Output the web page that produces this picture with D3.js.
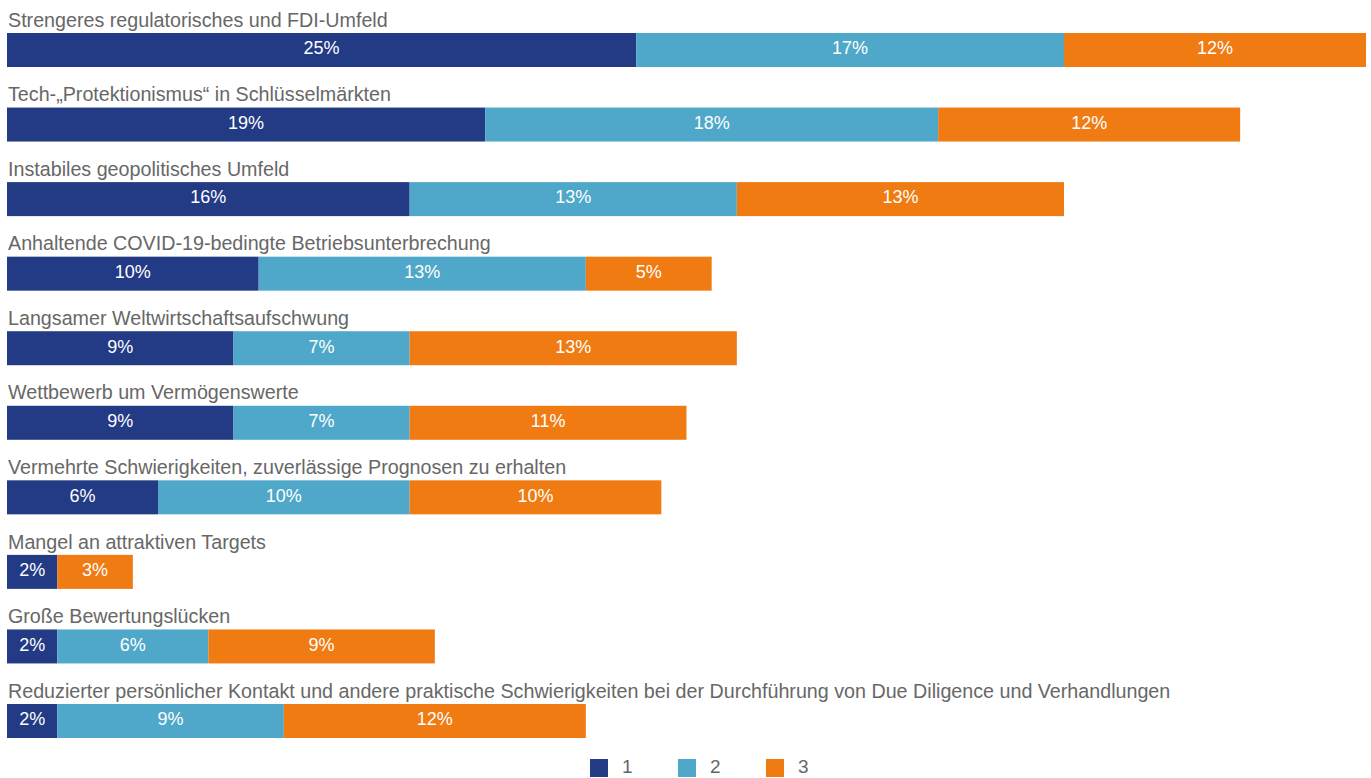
<!DOCTYPE html>
<html>
<head>
<meta charset="utf-8">
<script src="https://cdn.jsdelivr.net/npm/d3@7"></script>
<style>
  html, body { margin: 0; padding: 0; background: #ffffff; }
  svg { display: block; }
  text { font-family: "Liberation Sans", Arial, sans-serif; }
</style>
</head>
<body>
<svg id="chart" width="1371" height="778"></svg>
<script>
// Challenges listed, top to bottom
const categories = [
  "Strengeres regulatorisches und FDI-Umfeld",
  "Tech-„Protektionismus“ in Schlüsselmärkten",
  "Instabiles geopolitisches Umfeld",
  "Anhaltende COVID-19-bedingte Betriebsunterbrechung",
  "Langsamer Weltwirtschaftsaufschwung",
  "Wettbewerb um Vermögenswerte",
  "Vermehrte Schwierigkeiten, zuverlässige Prognosen zu erhalten",
  "Mangel an attraktiven Targets",
  "Große Bewertungslücken",
  "Reduzierter persönlicher Kontakt und andere praktische Schwierigkeiten bei der Durchführung von Due Diligence und Verhandlungen"
];

// Share of respondents (%) ranking each challenge 1st, 2nd, 3rd
const rank1 = [25, 19, 16, 10, 9, 9, 6, 2, 2, 2];
const rank2 = [17, 18, 13, 13, 7, 7, 10, 0, 6, 9];
const rank3 = [12, 12, 13, 5, 13, 11, 10, 3, 9, 12];

const seriesKeys = ["1", "2", "3"];
const seriesColors = ["#233a85", "#4fa8c9", "#ef7b12"];

const rows = categories.map((c, i) => ({ cat: c, "1": rank1[i], "2": rank2[i], "3": rank3[i] }));
const stacked = d3.stack().keys(seriesKeys)(rows);

const svg = d3.select("#chart");

const x = d3.scaleLinear().domain([0, 54]).range([7, 1366]);
const y = d3.scaleBand().domain(categories).range([33, 738]).paddingInner(0.544).paddingOuter(0);
const color = d3.scaleOrdinal().domain(seriesKeys).range(seriesColors);

// Category labels above each bar
svg.append("g")
  .selectAll("text")
  .data(categories)
  .join("text")
  .attr("x", 8)
  .attr("y", d => y(d) - 6.3)
  .attr("fill", "#676767")
  .attr("font-size", 19.7)
  .text(d => d);

// Stacked segments
const layer = svg.append("g")
  .selectAll("g")
  .data(stacked)
  .join("g")
  .attr("fill", d => color(d.key));

layer.selectAll("rect")
  .data(d => d.filter(s => s[1] - s[0] > 0))
  .join("rect")
  .attr("x", d => x(d[0]))
  .attr("y", d => y(d.data.cat))
  .attr("width", d => x(d[1]) - x(d[0]))
  .attr("height", y.bandwidth());

// Values inside segments
const labels = svg.append("g");
stacked.forEach(s => {
  labels.selectAll(null)
    .data(s.filter(d => d[1] - d[0] > 0))
    .join("text")
    .attr("x", d => (x(d[0]) + x(d[1])) / 2)
    .attr("y", d => y(d.data.cat) + 21.3)
    .attr("text-anchor", "middle")
    .attr("fill", "#ffffff")
    .attr("font-size", 18)
    .text(d => (d[1] - d[0]) + "%");
});

// Legend
const legendX = d3.scalePoint().domain(seriesKeys).range([590, 766]);
const legend = svg.append("g")
  .selectAll("g")
  .data(seriesKeys)
  .join("g")
  .attr("transform", d => `translate(${legendX(d)},759)`);
legend.append("rect")
  .attr("width", 18).attr("height", 18)
  .attr("fill", d => color(d));
legend.append("text")
  .attr("x", 32).attr("y", 14)
  .attr("fill", "#676767")
  .attr("font-size", 19)
  .text(d => d);
</script>
</body>
</html>
